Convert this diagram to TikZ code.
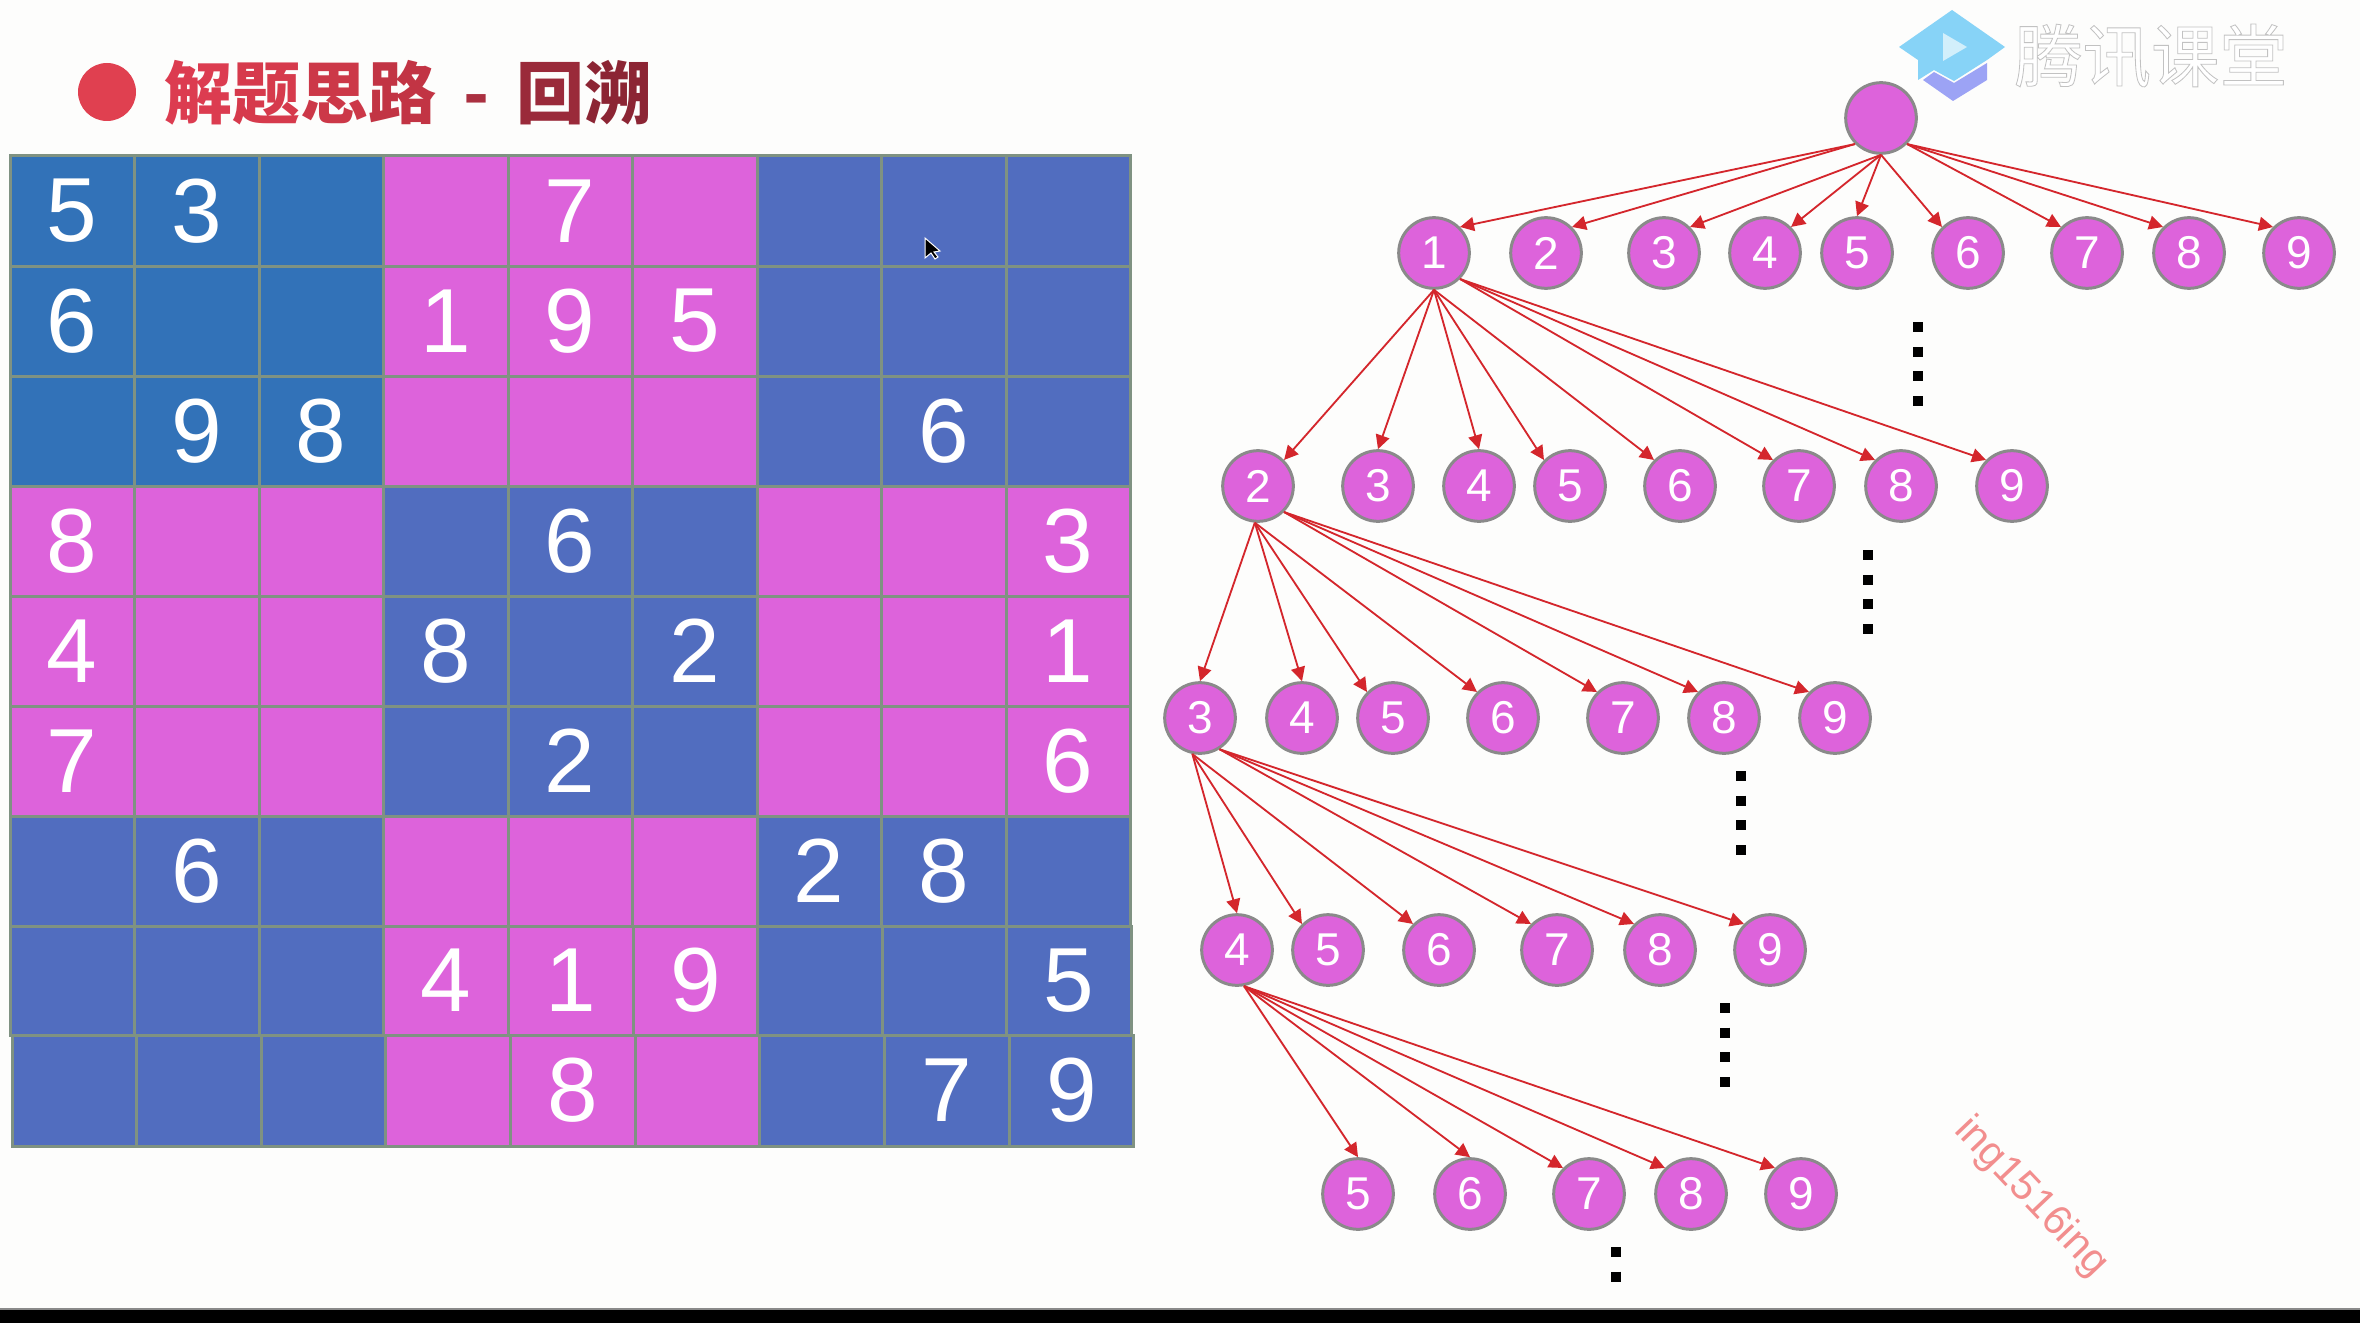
\documentclass[tikz,border=0pt]{standalone}
\usepackage{fontspec}
\setmainfont{Liberation Sans}
\newfontfamily\cjkfont{Noto Sans CJK SC}
\newfontfamily\brandfont{Noto Sans CJK SC}[FakeBold=1.2]
\usepackage{xcolor}
\usetikzlibrary{arrows.meta}
\definecolor{pagecol}{HTML}{FDFDFC}
\definecolor{deepcol}{HTML}{3272B8}
\definecolor{bluecol}{HTML}{516DBF}
\definecolor{magcol}{HTML}{DD63DB}
\definecolor{gridcol}{HTML}{7F9282}
\definecolor{edgecol}{HTML}{D4262C}
\definecolor{ringcol}{HTML}{8A8A8A}
\definecolor{bulletcol}{HTML}{E04050}
\definecolor{capcol}{HTML}{87D3F7}
\definecolor{basecol}{HTML}{9CA3F5}
\definecolor{playcol}{HTML}{D2EFFB}
\definecolor{markcol}{HTML}{F28E8E}
\tikzset{
  cellbox/.style={draw=gridcol,line width=.9pt,inner sep=0pt,outer sep=0pt},
  gridnum/.style={text=white,font=\fontsize{27.3}{28}\selectfont,inner sep=0pt},
  numnode/.style={circle,draw=ringcol,fill=magcol,line width=.9pt,minimum size=21.2pt,
    inner sep=0pt,text=white,font=\fontsize{13.8}{14}\selectfont},
  edgeline/.style={edgecol,line width=.55pt,-{Triangle[length=4.2pt,width=4.2pt]}},
  dotline/.style={black,line width=3pt,dash pattern=on 3pt off 4.41pt},
}
\begin{document}
\begin{tikzpicture}[x=.3pt,y=-.3pt]
  \useasboundingbox (0,0) rectangle (2360,1323);
  \fill[pagecol] (0,0) rectangle (2360,1323);
  \fill[ringcol] (0,1308) rectangle (2360,1311);
  \fill[black] (0,1310) rectangle (2360,1323);
  % heading
  \fill[bulletcol] (107,92) circle (29);
  \node[anchor=west,inner sep=0pt,font=\cjkfont\bfseries\fontsize{20.4}{22}\selectfont] (heading) at (164,93)
    {\textcolor[HTML]{DC3C50}{解}\textcolor[HTML]{D63A4C}{题}\textcolor[HTML]{CC3848}{思}\textcolor[HTML]{C23444}{路}\hspace{8pt}\textcolor[HTML]{AA3040}{-}\hspace{8pt}\textcolor[HTML]{9A2A3A}{回}\textcolor[HTML]{8C2534}{溯}};
  % logo
  \fill[basecol] (1923,80) -- (1934,72) -- (1954,83) -- (1987,63) -- (1987,80) -- (1953,101) -- cycle;
  \fill[capcol] (1952,10) -- (2005,47) -- (1987,60) -- (1954,81) -- (1934,70) -- (1918,80) -- (1918,60) -- (1899,47) -- cycle;
  \fill[playcol] (1943,33) -- (1967,47) -- (1943,61) -- cycle;
  \node[inner sep=0pt,font=\brandfont\fontsize{20.5}{22}\selectfont] (brand) at (2151,56)
    {\textcolor{white}{\special{pdf:code 0.76 0.76 0.76 RG}腾讯课堂}};
  % board
  \foreach \rw/\xa/\xw/\ya/\yh in {1/10/124.5/156/110,2/10/124.5/266/110,3/10/124.5/376/110,
      4/10/124.5/486/110,5/10/124.5/596/110,6/10/124.5/706/110,7/10/124.5/816/110,
      8/10/124.6/926/109,9/12/124.65/1035/111} {
    \foreach \cl in {1,...,9} {
      \pgfmathtruncatemacro\bk{int((\rw-1)/3)+int((\cl-1)/3)}
      \ifodd\bk\def\cellcol{magcol}\else\def\cellcol{bluecol}\fi
      \ifnum\bk=0 \def\cellcol{deepcol}\fi
      \node[cellbox,fill=\cellcol,minimum width=\xw*.3pt,minimum height=\yh*.3pt]
        (c\rw\cl) at ({\xa+(\cl-.5)*\xw},{\ya+\yh/2}) {};
    }
  }
  \foreach \rw/\cl/\n in {1/1/5,1/2/3,1/5/7,2/1/6,2/4/1,2/5/9,2/6/5,3/2/9,3/3/8,3/8/6,
      4/1/8,4/5/6,4/9/3,5/1/4,5/4/8,5/6/2,5/9/1,6/1/7,6/5/2,6/9/6,
      7/2/6,7/7/2,7/8/8,8/4/4,8/5/1,8/6/9,8/9/5,9/5/8,9/8/7,9/9/9} {
    \node[gridnum] (d\rw\cl) at (c\rw\cl) {\n};
  }
  % pointer
  \draw[white,fill=black,line width=.3pt] (925,238) -- (925,258) -- (931,253) -- (935,259) -- (938,257) -- (934,252) -- (940,251) -- cycle;
  % tree
  \node[numnode] (root) at (1881,118) {};
  \foreach \n/\x in {1/1434,2/1546,3/1664,4/1765,5/1857,6/1968,7/2087,8/2189,9/2299}
    \node[numnode] (a\n) at (\x,253) {\n};
  \foreach \n/\x in {2/1258,3/1378,4/1479,5/1570,6/1680,7/1799,8/1901,9/2012}
    \node[numnode] (b\n) at (\x,486) {\n};
  \foreach \n/\x in {3/1200,4/1302,5/1393,6/1503,7/1623,8/1724,9/1835}
    \node[numnode] (c\n) at (\x,718) {\n};
  \foreach \n/\x in {4/1237,5/1328,6/1439,7/1557,8/1660,9/1770}
    \node[numnode] (e\n) at (\x,950) {\n};
  \foreach \n/\x in {5/1358,6/1470,7/1589,8/1691,9/1801}
    \node[numnode] (f\n) at (\x,1194) {\n};
  \foreach \n/\src/\dst in {1/south west/north east,2/south west/north east,3/south/north east,
      4/south/north east,5/south/north,6/south/north west,7/south east/north west,
      8/south east/north west,9/south east/north west}
    \draw[edgeline] (root.\src) -- (a\n.\dst);
  \foreach \n/\src/\dst in {2/south/north east,3/south/north,4/south/north,5/south/north west,
      6/south/north west,7/south east/north west,8/south east/north west,9/south east/north west}
    \draw[edgeline] (a1.\src) -- (b\n.\dst);
  \foreach \n/\src/\dst in {3/-95/north,4/-95/north,5/-95/north west,6/-95/north west,
      7/south east/north west,8/south east/north west,9/south east/north west}
    \draw[edgeline] (b2.\src) -- (c\n.\dst);
  \foreach \n/\src/\dst in {4/-102/north,5/-102/north west,6/-102/north west,
      7/-58/north west,8/-58/north west,9/-58/north west}
    \draw[edgeline] (c3.\src) -- (e\n.\dst);
  \foreach \n/\dst in {5/north,6/north,7/north west,8/north west,9/north west}
    \draw[edgeline] (e4.-79) -- (f\n.\dst);
  % dots
  \draw[dotline] (1918,322) -- (1918,407);
  \draw[dotline] (1868,550) -- (1868,635);
  \draw[dotline] (1741,771) -- (1741,856);
  \draw[dotline] (1725,1003) -- (1725,1088);
  \draw[dotline] (1616,1247) -- (1616,1282);
  % watermark
  \node[rotate=-46.5,text=markcol,inner sep=0pt,font=\fontsize{12.4}{13}\selectfont] (mark) at (2031,1197) {ing1516ing};
\end{tikzpicture}
\end{document}
